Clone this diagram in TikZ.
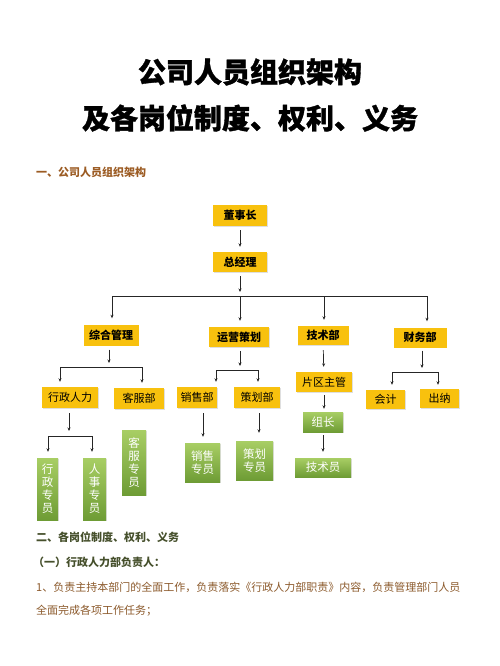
\documentclass[tikz,border=0pt]{standalone}
\usepackage{fontspec}
\setmainfont{Noto Sans CJK SC}
\newfontfamily\titlefont{Noto Sans CJK SC}[BoldFeatures={FakeBold=1.2}]
\usetikzlibrary{arrows.meta,shadows}
\definecolor{boxyellow}{HTML}{F8C10E}
\definecolor{gtop}{HTML}{A8CE64}
\definecolor{gbot}{HTML}{6E9C35}
\definecolor{headbrown}{HTML}{9C5C24}
\definecolor{headolive}{HTML}{46502C}
\definecolor{bodybrown}{HTML}{8C5A2C}
\tikzset{
  ybox/.style={fill=boxyellow, inner sep=0pt, font=\fontsize{11}{13}\selectfont,
    drop shadow={shadow xshift=0.8pt, shadow yshift=-0.8pt, opacity=0.25}},
  ybold/.style={ybox, font=\fontsize{11}{13}\selectfont\bfseries},
  gbox/.style={top color=gtop, bottom color=gbot, inner sep=0pt, text=white, align=center,
    font=\fontsize{11.5}{13}\selectfont,
    drop shadow={shadow xshift=0.8pt, shadow yshift=-0.8pt, opacity=0.25}},
  arr/.style={draw=black!85, line width=0.7pt, -{Stealth[length=3.5pt,width=3pt]}},
  ln/.style={draw=black!85, line width=0.7pt},
  txt/.style={anchor=west, inner sep=0pt},
}
\begin{document}
\begin{tikzpicture}[x=1pt,y=-1pt]
\useasboundingbox (0,0) rectangle (500,666);
\fill[white] (0,0) rectangle (500,666);

% titles
\node[inner sep=0pt, font=\fontsize{28}{30}\titlefont\bfseries] (t1) at (250,72) {公司人员组织架构};
\node[inner sep=0pt, font=\fontsize{28}{30}\titlefont\bfseries] (t2) at (250,118) {及各岗位制度、权利、义务};
\node[txt, text=headbrown, font=\fontsize{11}{13}\selectfont\bfseries] (h1) at (36,172) {一、公司人员组织架构};

% level boxes
\node[ybold, minimum width=54pt, minimum height=21pt] (dsz) at (240,215.5) {董事长};
\node[ybold, minimum width=54pt, minimum height=20pt] (zjl) at (240,262) {总经理};
\node[ybold, minimum width=55pt, minimum height=21pt] (zhgl) at (111,335) {综合管理};
\node[ybold, minimum width=60pt, minimum height=20pt] (yycj) at (239,337) {运营策划};
\node[ybold, minimum width=51pt, minimum height=19pt] (jsb) at (323,335.5) {技术部};
\node[ybold, minimum width=53pt, minimum height=20pt] (cwb) at (420,337.5) {财务部};

\node[ybox, minimum width=56pt, minimum height=21pt] (xzrl) at (70,397.5) {行政人力};
\node[ybox, minimum width=50pt, minimum height=21pt] (kfb) at (139,398.5) {客服部};
\node[ybox, minimum width=40pt, minimum height=21pt] (xsb) at (197,397.5) {销售部};
\node[ybox, minimum width=46pt, minimum height=21pt] (chb) at (257,397.5) {策划部};
\node[ybox, minimum width=56pt, minimum height=20pt] (pqzg) at (324,382) {片区主管};
\node[ybox, minimum width=39pt, minimum height=19pt] (kj) at (385.5,399.5) {会计};
\node[ybox, minimum width=39pt, minimum height=19pt] (cn) at (439.5,398.5) {出纳};

% green boxes
\node[gbox, minimum width=21pt, minimum height=62pt] (xzzy) at (47.5,489) {行\\政\\专\\员};
\node[gbox, minimum width=23pt, minimum height=62pt] (rszy) at (94.5,489) {人\\事\\专\\员};
\node[gbox, minimum width=24pt, minimum height=65pt] (kfzy) at (134,462.5) {客\\服\\专\\员};
\node[gbox, minimum width=35pt, minimum height=39pt] (xszy) at (202.5,462.5) {销售\\专员};
\node[gbox, minimum width=37pt, minimum height=39pt] (chzy) at (254.5,460.5) {策划\\专员};
\node[gbox, minimum width=40pt, minimum height=20pt] (zz) at (323,422) {组长};
\node[gbox, minimum width=56pt, minimum height=19pt] (jsy) at (323,467.5) {技术员};

% connectors: top
\draw[arr, shorten <=4pt, shorten >=5pt] (dsz) -- (zjl);
\coordinate (j1) at (112,296);
\coordinate (j2) at (240,296);
\coordinate (j3) at (324,296);
\coordinate (j4) at (427,296);
\draw[arr, shorten <=4pt, shorten >=4pt] (zjl.south) -- (j2);
\draw[ln] (j1) -- (j4);
\draw[arr, shorten >=6pt] (j1) -- (j1 |- zhgl.north);
\draw[arr, shorten >=6pt] (j2) -- (j2 |- yycj.north);
\draw[arr, shorten >=6pt] (j3) -- (j3 |- jsb.north);
\draw[arr, shorten >=6pt] (j4) -- (j4 |- cwb.north);

% 综合管理 branch
\coordinate (k1) at (109,367);
\coordinate (k1l) at (60,367);
\coordinate (k1r) at (142,367);
\draw[arr, shorten <=4pt, shorten >=4pt] (zhgl.south -| k1) -- (k1);
\draw[ln] (k1l) -- (k1r);
\draw[arr, shorten >=5pt] (k1l) -- (k1l |- xzrl.north);
\draw[arr, shorten >=5pt] (k1r) -- (k1r |- kfb.north);

% 运营策划 branch
\coordinate (k2) at (240,370);
\coordinate (k2l) at (216,370);
\coordinate (k2r) at (258,370);
\draw[arr, shorten <=4pt, shorten >=4pt] (yycj.south -| k2) -- (k2);
\draw[ln] (k2l) -- (k2r);
\draw[arr, shorten >=5pt] (k2l) -- (k2l |- xsb.north);
\draw[arr, shorten >=5pt] (k2r) -- (k2r |- chb.north);

% 技术部 chain
\draw[arr, shorten <=5pt, shorten >=5pt] (jsb) -- (pqzg);
\draw[arr, shorten <=3pt, shorten >=3pt] (pqzg.south) -- (pqzg.south |- zz.north);
\draw[arr, shorten <=3pt, shorten >=6pt] (zz.south) -- (zz.south |- jsy.north);

% 财务部 branch
\coordinate (k4) at (422,372);
\coordinate (k4l) at (392,372);
\coordinate (k4r) at (438,372);
\draw[arr, shorten <=3pt, shorten >=4pt] (cwb.south -| k4) -- (k4);
\draw[ln] (k4l) -- (k4r);
\draw[arr, shorten >=5pt] (k4l) -- (k4l |- kj.north);
\draw[arr, shorten >=4pt] (k4r) -- (k4r |- cn.north);

% 行政人力 branch
\coordinate (k5) at (69,436);
\coordinate (k5l) at (48,436);
\coordinate (k5r) at (92,436);
\draw[arr, shorten <=5pt, shorten >=5pt] (xzrl.south -| k5) -- (k5);
\draw[ln] (k5l) -- (k5r);
\draw[arr, shorten >=6pt] (k5l) -- (k5l |- xzzy.north);
\draw[arr, shorten >=6pt] (k5r) -- (k5r |- rszy.north);

% 销售部 / 策划部
\draw[arr, shorten <=5pt, shorten >=6pt] (xsb.south -| 203,0) -- (xszy.north -| 203,0);
\draw[arr, shorten <=5pt, shorten >=8pt] (chb.south -| 259,0) -- (chzy.north -| 259,0);

% section 2 text
\node[txt, text=headolive, font=\fontsize{11}{13}\selectfont\bfseries] (h2) at (36,537.5) {二、各岗位制度、权利、义务};
\node[txt, text=headolive, font=\fontsize{11}{13}\selectfont\bfseries] (h3) at (33,562.5) {（一）行政人力部负责人：};
\node[txt, text=bodybrown, font=\fontsize{11}{13}\selectfont] (p1) at (36,587.5) {1、负责主持本部门的全面工作，负责落实《行政人力部职责》内容，负责管理部门人员};
\node[txt, text=bodybrown, font=\fontsize{11}{13}\selectfont] (p2) at (36,611) {全面完成各项工作任务；};
\end{tikzpicture}
\end{document}
